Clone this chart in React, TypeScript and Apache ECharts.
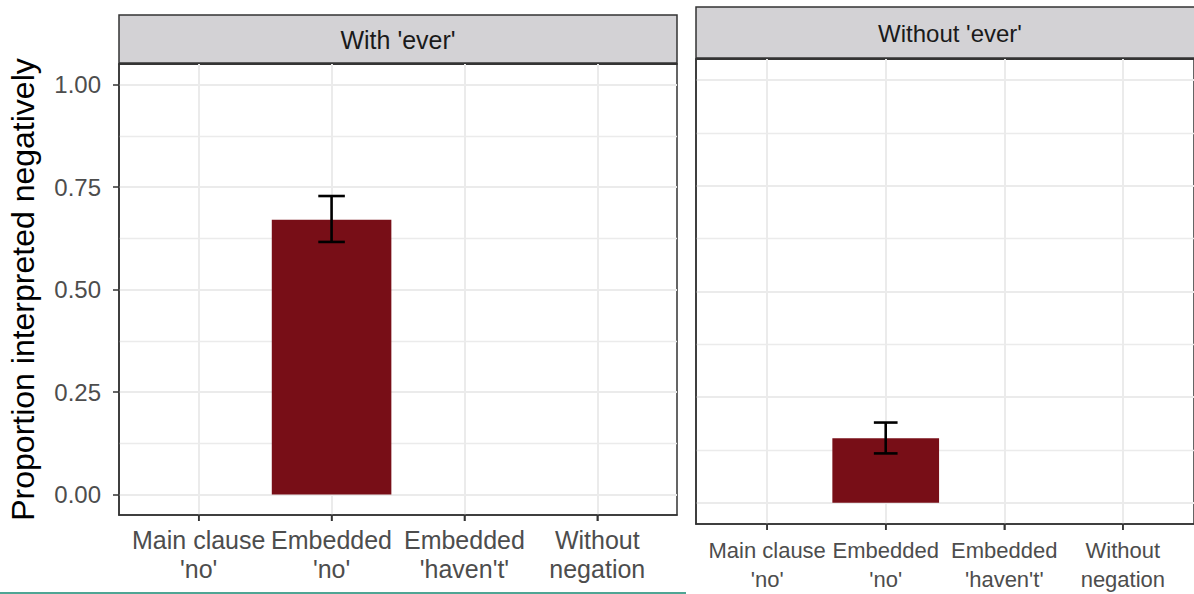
import React, { useEffect, useRef } from 'react';
import * as echarts from 'echarts';

const categories = ["Main clause\n'no'", "Embedded\n'no'", "Embedded\n'haven't'", "Without\nnegation"];
const panelTitles = ["With 'ever'", "Without 'ever'"];
const yTitle = 'Proportion interpreted negatively';

const withEverMean = [0, 0.67, 0, 0];
const withEverLower: (number | null)[] = [null, 0.616, null, null];
const withEverUpper: (number | null)[] = [null, 0.728, null, null];

const withoutEverMean = [0, 0.153, 0, 0];
const withoutEverLower: (number | null)[] = [null, 0.117, null, null];
const withoutEverUpper: (number | null)[] = [null, 0.19, null, null];

const yTicks = [0, 0.25, 0.5, 0.75, 1];
const yMinorTicks = [0.125, 0.375, 0.625, 0.875];
const xTicks = [0, 1, 2, 3];

const BAR = '#780E17';
const FONT = "'Liberation Sans', Arial, Helvetica, sans-serif";
const GRID_COLOR = '#EBEBEB';
const DARK = '#333333';
const Y_MIN = -0.05;
const Y_MAX = 1.05;

function barSeries(idx: number, means: number[]) {
  return {
    type: 'custom',
    xAxisIndex: idx,
    yAxisIndex: idx * 2,
    z: 3,
    data: means.map((v, i) => [i, v]),
    renderItem: (params: any, api: any) => {
      const x = api.value(0);
      const y = api.value(1);
      const p1 = api.coord([x - 0.45, y]);
      const p2 = api.coord([x + 0.45, 0]);
      return {
        type: 'rect',
        shape: { x: p1[0], y: p1[1], width: p2[0] - p1[0], height: p2[1] - p1[1] },
        style: { fill: BAR },
      };
    },
  };
}

function errSeries(idx: number, lo: (number | null)[], hi: (number | null)[]) {
  const data: number[][] = [];
  lo.forEach((l, i) => {
    const h = hi[i];
    if (l != null && h != null) data.push([i, l, h]);
  });
  return {
    type: 'custom',
    xAxisIndex: idx,
    yAxisIndex: idx * 2,
    z: 4,
    data,
    renderItem: (params: any, api: any) => {
      const x = api.value(0);
      const l = api.value(1);
      const h = api.value(2);
      const a = api.coord([x - 0.1, h]);
      const b = api.coord([x + 0.1, h]);
      const c = api.coord([x - 0.1, l]);
      const d = api.coord([x + 0.1, l]);
      const m1 = api.coord([x, h]);
      const m2 = api.coord([x, l]);
      const st = { stroke: '#000', lineWidth: 2.6 };
      return {
        type: 'group',
        children: [
          { type: 'line', shape: { x1: a[0], y1: a[1], x2: b[0], y2: b[1] }, style: st },
          { type: 'line', shape: { x1: c[0], y1: c[1], x2: d[0], y2: d[1] }, style: st },
          { type: 'line', shape: { x1: m1[0], y1: m1[1], x2: m2[0], y2: m2[1] }, style: st },
        ],
      };
    },
  };
}

// x-axis tick marks below each panel, positioned through the axis scale
function tickSeries(idx: number) {
  return {
    type: 'custom',
    xAxisIndex: idx,
    yAxisIndex: idx * 2,
    z: 5,
    clip: false,
    silent: true,
    data: xTicks.map((v) => [v, Y_MIN]),
    renderItem: (params: any, api: any) => {
      const p = api.coord([api.value(0), api.value(1)]);
      return {
        type: 'line',
        shape: { x1: p[0], y1: p[1], x2: p[0], y2: p[1] + 6 },
        style: { stroke: DARK, lineWidth: 1.5 },
      };
    },
  };
}

function xAxis(idx: number, fontSize: number, margin: number) {
  return {
    type: 'value',
    gridIndex: idx,
    min: -0.6,
    max: 3.6,
    position: 'bottom',
    axisLine: { show: true, onZero: false, lineStyle: { color: DARK, width: 1.5 } },
    axisTick: { show: true, inside: false, customValues: xTicks, length: 6, lineStyle: { color: DARK, width: 1.5 } },
    axisLabel: {
      customValues: xTicks,
      formatter: (v: number) => categories[Math.round(v)] ?? '',
      fontSize,
      fontFamily: FONT,
      color: '#4D4D4D',
      lineHeight: 29,
      margin,
      hideOverlap: false,
      showMinLabel: true,
      showMaxLabel: true,
    },
    splitLine: { show: true, lineStyle: { color: GRID_COLOR, width: 2 } },
  };
}

function yAxes(idx: number, showLabels: boolean) {
  const major: any = {
    type: 'value',
    gridIndex: idx,
    min: Y_MIN,
    max: Y_MAX,
    position: 'left',
    axisLine: { show: true, onZero: false, lineStyle: { color: DARK, width: 1.5 } },
    axisTick: { show: showLabels, customValues: yTicks, length: 6, lineStyle: { color: DARK, width: 1.5 } },
    axisLabel: {
      show: showLabels,
      customValues: yTicks,
      formatter: (v: number) => v.toFixed(2),
      fontSize: 24,
      fontFamily: FONT,
      color: '#4D4D4D',
      margin: 18,
      hideOverlap: false,
      showMinLabel: true,
      showMaxLabel: true,
    },
    splitLine: { show: true, lineStyle: { color: GRID_COLOR, width: 2 } },
  };
  if (showLabels) {
    major.name = yTitle;
    major.nameLocation = 'middle';
    major.nameRotate = 90;
    major.nameGap = 80;
    major.nameTextStyle = { fontSize: 32, fontFamily: FONT, color: '#000' };
  }
  const minor = {
    type: 'value',
    gridIndex: idx,
    min: Y_MIN,
    max: Y_MAX,
    position: 'left',
    axisLine: { show: false, onZero: false },
    axisTick: { show: false, customValues: yMinorTicks },
    axisLabel: { show: false, customValues: yMinorTicks },
    splitLine: { show: true, lineStyle: { color: GRID_COLOR, width: 1.3 } },
  };
  return [major, minor];
}

export default function App() {
  const ref = useRef<HTMLDivElement>(null);
  useEffect(() => {
    document.body.style.margin = '0';
    if (!ref.current) return;
    const chart = echarts.init(ref.current, undefined, { renderer: 'svg' });
    chart.setOption({
      animation: false,
      backgroundColor: '#fff',
      grid: [
        { left: 119, top: 64, width: 558, height: 451, show: true, borderColor: DARK, borderWidth: 1.5, backgroundColor: '#fff', containLabel: false },
        { left: 696, top: 59, width: 508, height: 465, show: true, borderColor: DARK, borderWidth: 1.5, backgroundColor: '#fff', containLabel: false },
      ],
      xAxis: [xAxis(0, 25, 10), xAxis(1, 22, 12)],
      yAxis: [...yAxes(0, true), ...yAxes(1, false)],
      series: [
        barSeries(0, withEverMean),
        errSeries(0, withEverLower, withEverUpper),
        tickSeries(0),
        barSeries(1, withoutEverMean),
        errSeries(1, withoutEverLower, withoutEverUpper),
        tickSeries(1),
      ],
      graphic: [
        { type: 'rect', shape: { x: 119, y: 15, width: 558, height: 49 }, style: { fill: '#D3D2D5', stroke: DARK, lineWidth: 1.5 } },
        { type: 'line', shape: { x1: 119, y1: 63.5, x2: 677, y2: 63.5 }, style: { stroke: DARK, lineWidth: 2.5 } },
        { type: 'text', x: 398, y: 40, style: { text: panelTitles[0], font: `25px ${FONT}`, fill: '#1A1A1A', align: 'center', verticalAlign: 'middle' } },
        { type: 'rect', shape: { x: 696, y: 7, width: 520, height: 52 }, style: { fill: '#D3D2D5', stroke: DARK, lineWidth: 1.5 } },
        { type: 'line', shape: { x1: 696, y1: 58.5, x2: 1194, y2: 58.5 }, style: { stroke: DARK, lineWidth: 2.5 } },
        { type: 'text', x: 950, y: 33, style: { text: panelTitles[1], font: `24px ${FONT}`, fill: '#1A1A1A', align: 'center', verticalAlign: 'middle' } },
        { type: 'line', shape: { x1: 0, y1: 593, x2: 686, y2: 593 }, style: { stroke: '#4FA594', lineWidth: 2 } },
      ],
    });
    return () => chart.dispose();
  }, []);
  return <div ref={ref} style={{ width: 1194, height: 594 }} />;
}
